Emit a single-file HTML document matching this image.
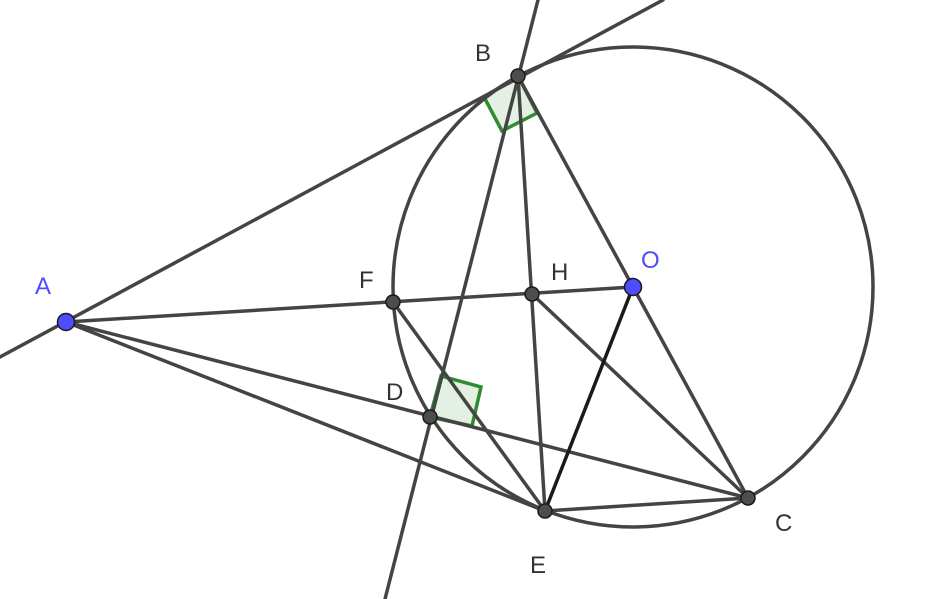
<!DOCTYPE html>
<html><head><meta charset="utf-8"><style>
html,body{margin:0;padding:0;background:#fff;}
svg{display:block;}
text{font-family:"Liberation Sans",sans-serif;font-size:24px;}
</style></head><body>
<svg width="944" height="599" viewBox="0 0 944 599" xmlns="http://www.w3.org/2000/svg">
<g fill="#e5f0e5" stroke="#2e8b2e" stroke-width="3.5">
<polygon points="518,76 484,97 502,131 537,113"/>
<polygon points="430,417 441,376 481,387 472,426"/>
</g>
<g stroke="#444" stroke-width="3.5" fill="none" stroke-linecap="round">
<circle cx="633" cy="287" r="240"/>
<line x1="0" y1="357" x2="663" y2="0"/>
<line x1="538" y1="0" x2="385" y2="599"/>
<line x1="518" y1="76" x2="633" y2="287"/>
<line x1="518" y1="76" x2="545" y2="511"/>
<line x1="66" y1="322" x2="633" y2="287"/>
<line x1="66" y1="322" x2="748" y2="498"/>
<line x1="66" y1="322" x2="545" y2="511"/>
<line x1="393" y1="302" x2="545" y2="511"/>
<line x1="532" y1="294" x2="748" y2="498"/>
<line x1="633" y1="287" x2="748" y2="498"/>
<line x1="545" y1="511" x2="748" y2="498"/>
<line x1="633" y1="287" x2="545" y2="511" stroke="#1a1a1a"/>
</g>
<g stroke="#1a1a1a" stroke-width="1.5" fill="#4d4d4d">
<circle cx="518" cy="76" r="7"/>
<circle cx="393" cy="302" r="7"/>
<circle cx="532" cy="294" r="7"/>
<circle cx="430" cy="417" r="7"/>
<circle cx="545" cy="511" r="7"/>
<circle cx="748" cy="498" r="7"/>
</g>
<g stroke="#1a1a1a" stroke-width="1.5" fill="#4d4dff">
<circle cx="66" cy="322" r="8.5"/>
<circle cx="633" cy="287" r="8.5"/>
</g>
<g fill="#333">
<text x="475" y="61">B</text>
<text x="359" y="288">F</text>
<text x="551" y="280">H</text>
<text x="386" y="400">D</text>
<text x="530" y="573">E</text>
<text x="775" y="531">C</text>
</g>
<g fill="#4d4dff">
<text x="35" y="294">A</text>
<text x="641" y="268">O</text>
</g>
</svg>
</body></html>
